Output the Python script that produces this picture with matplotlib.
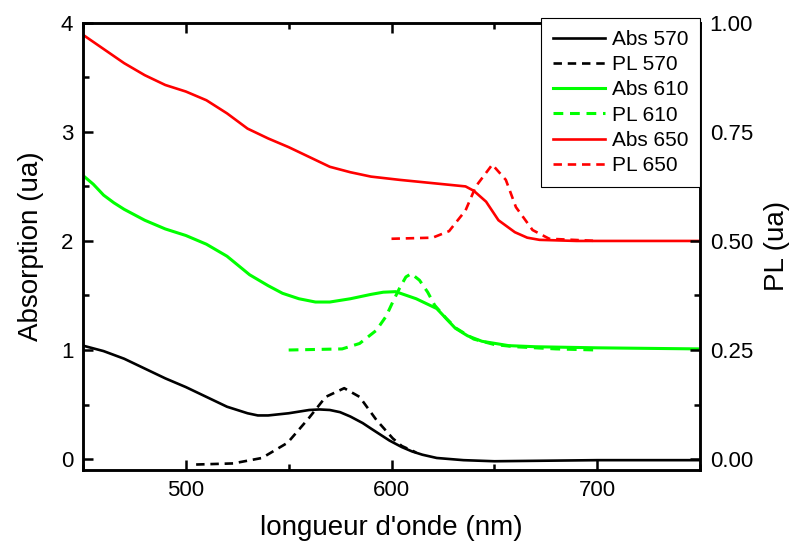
import matplotlib
matplotlib.use("Agg")
import matplotlib.pyplot as plt
from matplotlib.ticker import MultipleLocator

plt.rcParams['font.family'] = ['Liberation Sans', 'DejaVu Sans']

# absorption spectra (left axis, offset by 1 per sample)
abs570_x = [450, 460, 470, 480, 490, 500, 510, 520, 530, 535, 540, 550, 560, 565, 570, 575,
            580, 586, 590, 599, 605, 610, 615, 622, 635, 650, 700, 750]
abs570_y = [1.04, 0.99, 0.92, 0.83, 0.74, 0.66, 0.57, 0.48, 0.42, 0.40, 0.40, 0.42, 0.45, 0.455,
            0.45, 0.43, 0.39, 0.33, 0.28, 0.17, 0.11, 0.07, 0.04, 0.01, -0.01, -0.02, -0.01, -0.01]

abs610_x = [450, 455, 460, 465, 470, 480, 490, 500, 510, 520, 531, 540, 547, 555, 563, 570,
            580, 590, 596, 602, 612, 622, 631, 637, 644, 657, 670, 700, 750]
abs610_y = [2.60, 2.52, 2.42, 2.35, 2.29, 2.19, 2.11, 2.05, 1.97, 1.86, 1.69, 1.59, 1.52, 1.47,
            1.44, 1.44, 1.47, 1.51, 1.53, 1.535, 1.47, 1.38, 1.20, 1.13, 1.08, 1.04, 1.03, 1.02, 1.01]

abs650_x = [450, 460, 470, 480, 490, 500, 510, 520, 530, 540, 550, 560, 570, 580, 590, 604,
            620, 636, 640, 646, 652, 660, 666, 672, 690, 750]
abs650_y = [3.89, 3.76, 3.63, 3.52, 3.43, 3.37, 3.29, 3.17, 3.03, 2.94, 2.86, 2.77, 2.68, 2.63,
            2.59, 2.56, 2.53, 2.50, 2.46, 2.36, 2.19, 2.08, 2.03, 2.01, 2.00, 2.00]

# photoluminescence spectra (right axis)
pl570_x = [505, 523, 537, 549.5, 560, 568, 577, 584.5, 592.6, 600.6, 605, 612]
pl570_y = [-0.0125, -0.01, 0.0025, 0.0375, 0.095, 0.1425, 0.1625, 0.1425, 0.09, 0.0475, 0.03, 0.015]

pl610_x = [550, 576, 584.5, 592.6, 597.4, 600.6, 604, 607, 609.6, 613.6, 617.6, 621, 626.6,
           631.4, 640, 650, 660, 680, 700]
pl610_y = [0.25, 0.2525, 0.265, 0.295, 0.3275, 0.36, 0.3925, 0.4175, 0.425, 0.41, 0.3825,
           0.3525, 0.3225, 0.30, 0.275, 0.2625, 0.2575, 0.2525, 0.25]

pl650_x = [600, 620, 628, 636, 641, 649, 655.6, 660.5, 668.6, 676.7, 700]
pl650_y = [0.505, 0.5075, 0.5225, 0.57, 0.625, 0.675, 0.64, 0.5775, 0.525, 0.505, 0.50]

GREEN = '#00ff00'
lw = 1.9
dash = (0, (3.2, 2.2))

fig = plt.figure(figsize=(7.93, 5.5), dpi=100)
ax = fig.add_axes([0.1047, 0.1455, 0.778, 0.813])
ax2 = ax.twinx()

l1, = ax.plot(abs570_x, abs570_y, color='black', lw=lw, label='Abs 570')
l3, = ax.plot(abs610_x, abs610_y, color=GREEN, lw=lw + 0.3, label='Abs 610')
l5, = ax.plot(abs650_x, abs650_y, color='red', lw=lw, label='Abs 650')
l2, = ax2.plot(pl570_x, pl570_y, color='black', lw=lw, ls=dash, label='PL 570')
l4, = ax2.plot(pl610_x, pl610_y, color=GREEN, lw=lw + 0.3, ls=dash, label='PL 610')
l6, = ax2.plot(pl650_x, pl650_y, color='red', lw=lw, ls=dash, label='PL 650')

ax.set_xlim(450, 750)
ax.set_ylim(-0.1, 4)
ax2.set_ylim(-0.025, 1.0)

ax.xaxis.set_major_locator(MultipleLocator(100))
ax.xaxis.set_minor_locator(MultipleLocator(50))
ax.yaxis.set_major_locator(MultipleLocator(1))
ax.yaxis.set_minor_locator(MultipleLocator(0.5))
ax2.yaxis.set_major_locator(MultipleLocator(0.25))
ax2.yaxis.set_minor_locator(MultipleLocator(0.125))
ax2.yaxis.set_major_formatter(matplotlib.ticker.FormatStrFormatter('%.2f'))

ax.tick_params(which='both', direction='in', top=True, right=False, labelsize=16, width=1.8)
ax.tick_params(which='major', length=7, pad=7)
ax.tick_params(which='minor', length=4)
ax2.tick_params(which='both', direction='in', labelsize=16, width=1.8)
ax2.tick_params(which='major', length=7, pad=7)
ax2.tick_params(which='minor', length=4)

for a in (ax, ax2):
    for s in a.spines.values():
        s.set_linewidth(1.8)

ax.set_xlabel("longueur d'onde (nm)", fontsize=20, labelpad=10)
ax.set_ylabel("Absorption (ua)", fontsize=20, labelpad=12)
ax2.set_ylabel("PL (ua)", fontsize=20, labelpad=8)

leg = ax2.legend(handles=[l1, l2, l3, l4, l5, l6], loc='upper right', bbox_to_anchor=(1.0, 1.01),
                 borderaxespad=0, fontsize=15, fancybox=False, framealpha=1, edgecolor='black',
                 handlelength=2.5, labelspacing=0.3, handletextpad=0.35, borderpad=0.55)
leg.get_frame().set_linewidth(0.8)

fig.savefig('out.png', dpi=100)
